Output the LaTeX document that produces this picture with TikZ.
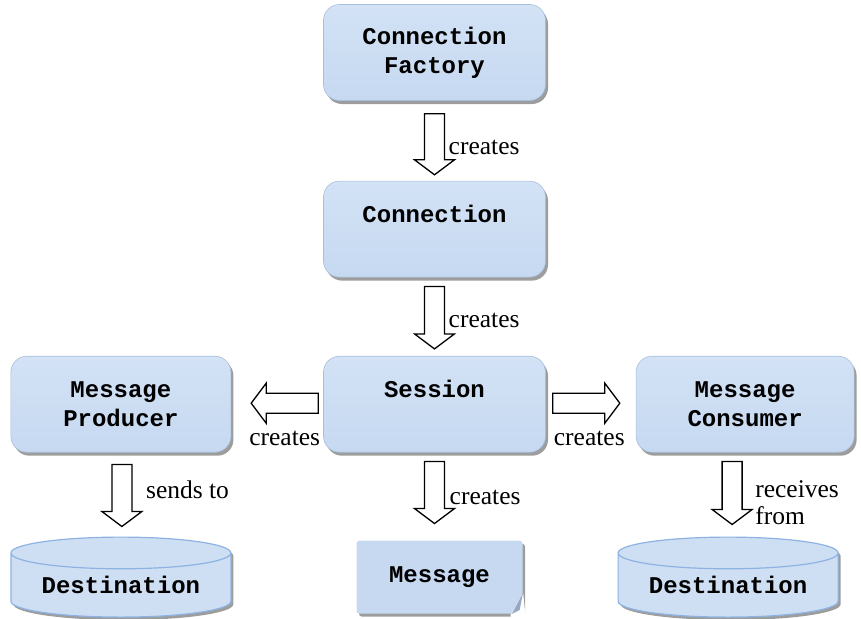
\documentclass[tikz,border=0pt]{standalone}
\usepackage{fontspec}
\setmainfont{Liberation Serif}
\setmonofont{Liberation Mono}
\usetikzlibrary{positioning,calc,shapes,shadows}
\definecolor{boxblue}{RGB}{198,217,241}
\definecolor{boxtop}{RGB}{211,226,245}
\definecolor{boxedge}{RGB}{167,191,222}
\definecolor{cylblue}{RGB}{141,179,226}
\definecolor{foldblue}{RGB}{150,168,196}
\tikzset{
  boxfont/.style  = {font=\ttfamily\bfseries\fontsize{24}{29}\selectfont},
  box/.style      = {shape=rectangle, rounded corners=16pt,
                     draw=boxedge, line width=0.6pt,
                     top color=boxtop, bottom color=boxblue,
                     minimum width=222pt, minimum height=96pt,
                     align=center, inner sep=0pt, boxfont,
                     drop shadow={shadow xshift=2.5pt, shadow yshift=-3.5pt,
                                  fill=black!55, opacity=0.7}},
  oneline/.style  = {text height=16pt, text depth=30pt},
  store/.style    = {shape=cylinder, shape border rotate=90, aspect=0.2,
                     draw=cylblue, line width=1.2pt, fill=boxblue!85!white,
                     minimum width=220pt, minimum height=80pt,
                     inner sep=0pt, boxfont,
                     drop shadow={shadow xshift=2.5pt, shadow yshift=-3pt,
                                  fill=black!55, opacity=0.7}},
  note/.style     = {shape=rectangle, fill=boxblue, rounded corners=3pt,
                     minimum width=166pt, minimum height=73pt,
                     inner sep=0pt, boxfont,
                     drop shadow={shadow xshift=2.5pt, shadow yshift=-3pt,
                                  fill=black!55, opacity=0.7}},
  lbl/.style      = {font=\fontsize{25.5}{27}\selectfont, inner sep=0pt,
                     align=left},
  fatarrow/.style = {draw=black, fill=white, line width=1.3pt, line join=miter,
    to path={let \p1=(\tikztostart), \p2=(\tikztotarget),
                 \n1={veclen(\x2-\x1,\y2-\y1)}, \n2={atan2(\y2-\y1,\x2-\x1)} in
             {[shift={(\p1)}, rotate=\n2]
              (0,-10) -- (\n1-15,-10) -- (\n1-15,-20) -- (\n1,0)
              -- (\n1-15,20) -- (\n1-15,10) -- (0,10) -- cycle}}}
}
\begin{document}
\begin{tikzpicture}[x=1pt, y=1pt]
  \useasboundingbox (0,0) rectangle (861,-618);

  \node[box] (factory) at (434.5,-52.5) {Connection\\Factory};
  \node[box, oneline, below=80pt of factory] (connection) {Connection};
  \node[box, oneline, below=78.5pt of connection] (session) {Session};
  \node[box, minimum width=220pt, left=92pt of session] (producer) {Message\\Producer};
  \node[box, minimum width=218pt, right=90pt of session] (consumer) {Message\\Consumer};
  \node[store, below=84pt of producer] (destleft) {Destination};
  \node[note, below=88pt of session, xshift=5pt] (message) {Message};
  \node[store, below=84pt of consumer, xshift=-17pt] (destright) {Destination};

  % folded corner of the message
  \fill[white] ($(message.south east)+(0.5,20)$) -- ($(message.south east)+(3,-4)$)
    -- ($(message.south east)+(-12,-4)$) -- ($(message.south east)+(-12,-0.5)$) -- cycle;
  \fill[foldblue] ($(message.south east)+(0,20)$) -- ($(message.south east)+(-11,0)$)
    -- ($(message.south east)+(-3,4)$) -- cycle;

  % end points of the block arrows
  \coordinate (a1s) at ($(factory.south)+(0,-13)$);
  \coordinate (a1e) at ($(connection.north)+(0,6)$);
  \coordinate (a2s) at ($(connection.south)+(0,-9)$);
  \coordinate (a2e) at ($(session.north)+(0,7)$);
  \coordinate (a3s) at ($(session.west)+(-5,1)$);
  \coordinate (a3e) at ($(producer.east)+(20,1)$);
  \coordinate (a4s) at ($(session.east)+(7,1)$);
  \coordinate (a4e) at ($(consumer.west)+(-16,1)$);
  \coordinate (a5s) at ($(producer.south)+(1,-12)$);
  \coordinate (a5e) at ($(destleft.north)+(1,10)$);
  \coordinate (a6s) at ($(session.south)+(0,-9)$);
  \coordinate (a6e) at ($(message.north)+(-5,17)$);
  \coordinate (a7s) at ($(consumer.south)+(-13,-9)$);
  \coordinate (a7e) at ($(destright.north)+(4,12)$);

  \foreach \a in {1,...,7} {
    \draw[fatarrow] (a\a s) to (a\a e);
  }

  \node[lbl, anchor=west] (l1) at ($(a1s)!.55!(a1e)+(14,0)$) {creates};
  \node[lbl, anchor=west] (l2) at ($(a2s)!.55!(a2e)+(14,0)$) {creates};
  \node[lbl]              (l3) at ($(a3s)!.5!(a3e)+(0,-35)$) {creates};
  \node[lbl]              (l4) at ($(a4s)!.5!(a4e)+(3,-35)$) {creates};
  \node[lbl, anchor=west] (l5) at ($(a5s)!.4!(a5e)+(24,0)$) {sends to};
  \node[lbl, anchor=west] (l6) at ($(a6s)!.58!(a6e)+(15,0)$) {creates};
  \node[lbl, anchor=west] (l7) at ($(a7s)!.65!(a7e)+(23,0)$) {receives\\from};
\end{tikzpicture}
\end{document}
